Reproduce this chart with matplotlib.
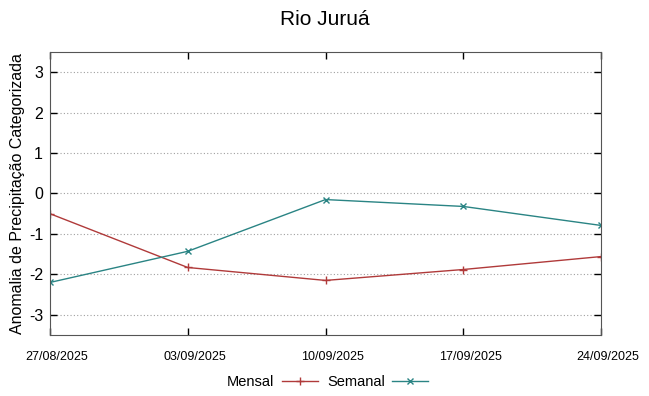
import matplotlib
matplotlib.use('Agg')
import matplotlib.pyplot as plt
import pandas as pd

datas = ['27/08/2025', '03/09/2025', '10/09/2025', '17/09/2025', '24/09/2025']
mensal = [-0.5, -1.83, -2.15, -1.88, -1.56]
semanal = [-2.2, -1.43, -0.15, -0.32, -0.79]
yticks = [-3, -2, -1, 0, 1, 2, 3]

plt.rcParams['font.family'] = ['Liberation Sans', 'DejaVu Sans']

x = pd.to_datetime(datas, format='%d/%m/%Y')

fig = plt.figure(figsize=(6.49, 3.96), dpi=100)
ax = fig.add_axes([50/649, 1 - 335/396, 551/649, 283/396])

ax.plot(x, mensal, color='#b03a3a', lw=1, marker='+', ms=6, mew=1, label='Mensal')
ax.plot(x, semanal, color='#2a8484', lw=1, marker='x', ms=5, mew=1, label='Semanal')

ax.set_xlim(x[0], x[-1])
ax.set_ylim(-3.5, 3.5)
ax.set_yticks(yticks)
ax.set_yticklabels([str(v) for v in yticks], fontsize=11.5)
ax.set_xticks(x)
ax.set_xticklabels([])
# date labels sit a little right of the tick, like gnuplot does
for xi, d in zip(x, datas):
    ax.annotate(d, xy=(xi, 0), xycoords=('data', 'axes fraction'),
                xytext=(5, -11.5), textcoords='offset points',
                ha='center', va='top', fontsize=9, annotation_clip=False)
ax.yaxis.grid(True, linestyle=(0, (1, 2)), color='#a0a0a0', lw=0.8)
ax.tick_params(direction='in', top=True, right=True, length=5, width=1, color='black')
ax.tick_params(axis='y', pad=5)
for s in ax.spines.values():
    s.set_color('#555555')

ax.set_ylabel('Anomalia de Precipitação Categorizada', fontsize=11.5, labelpad=3)
fig.suptitle('Rio Juruá', fontsize=15, y=0.975)

fig.legend(loc='center', bbox_to_anchor=(0.505, 1 - 382/396), ncol=2,
           frameon=False, markerfirst=False, fontsize=10.5, handlelength=2.5,
           columnspacing=0.6, handletextpad=0.5)

fig.savefig('out.png', dpi=100)
